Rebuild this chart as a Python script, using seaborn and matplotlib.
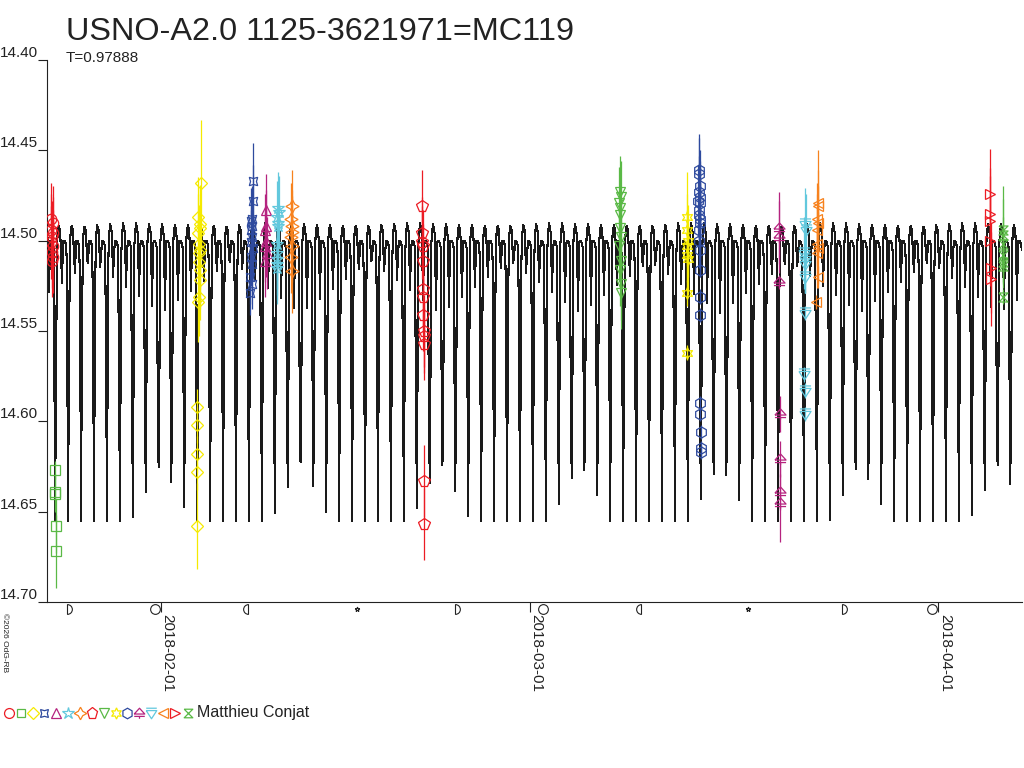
import numpy as np
import pandas as pd
import matplotlib
matplotlib.use("Agg")
import matplotlib.pyplot as plt
import matplotlib.dates as mdates
from matplotlib.path import Path
from matplotlib.lines import Line2D
import seaborn as sns

# ---------------- data ----------------
TITLE = "USNO-A2.0 1125-3621971=MC119"
SUBTITLE = "T=0.97888"
OBSERVER = "Matthieu Conjat"
PERIOD = 0.97888
EPOCH = "2018-02-11 14:48"          # primary minimum of the model curve
X_START = "2018-01-23 09:24"
X_END = "2018-04-07 08:00"

# model light-curve template (phase -> magnitude)
TPL_PHASE = [0.00, 0.022, 0.045, 0.065, 0.082, 0.10, 0.25, 0.42, 0.46, 0.50,
             0.54, 0.58, 0.75, 0.90, 0.918, 0.935, 0.955, 0.978, 1.00]
TPL_MAG = [14.655, 14.655, 14.610, 14.560, 14.520, 14.505, 14.490, 14.497, 14.510, 14.540,
           14.510, 14.500, 14.500, 14.505, 14.520, 14.560, 14.610, 14.655, 14.655]

Y_TICKS = [14.40, 14.45, 14.50, 14.55, 14.60, 14.65, 14.70]
X_TICKS = ["2018-02-01", "2018-03-01", "2018-04-01"]

MOON_DATES = ["2018-01-24 22:20", "2018-01-31 13:27", "2018-02-07 15:54", "2018-02-15 21:05",
              "2018-02-23 08:09", "2018-03-02 00:51", "2018-03-09 11:20", "2018-03-17 13:12",
              "2018-03-24 15:35", "2018-03-31 12:37"]
MOON_PHASES = ["first", "full", "last", "new", "first", "full", "last", "new", "first", "full"]

# observation nights (central time), hour offsets, magnitudes, errors
NIGHTS = ["2018-01-23 18:30", "2018-01-24 00:00", "2018-02-03 22:00", "2018-02-07 22:00",
          "2018-02-08 23:30", "2018-02-09 21:50", "2018-02-10 22:50", "2018-02-20 21:50",
          "2018-03-07 20:20", "2018-03-12 22:50", "2018-03-13 20:40", "2018-03-19 22:20",
          "2018-03-21 21:05", "2018-03-22 19:30", "2018-04-04 22:00", "2018-04-05 21:05"]

HRS_01 = [-2.0, 1.5, -1.0, 2.0, 0.0, -2.5, 1.0, -0.5, 2.5, 0.5]
MAG_01 = [14.488, 14.490, 14.494, 14.496, 14.498, 14.501, 14.503, 14.506, 14.509, 14.511]
ERR_01 = [0.020] * 10

HRS_02 = [0.0, 0.5, -0.5, 1.0, 1.5]
MAG_02 = [14.627, 14.639, 14.640, 14.658, 14.672]
ERR_02 = [0.005, 0.010, 0.010, 0.015, 0.020]

HRS_03 = [3.5, -2.0, 2.0, 1.0, -1.0, 0.5, 1.5, -0.5, 0.0, 2.5, 1.0, 0.5, -2.5, -3.0, -2.8, -3.0, -3.2, -3.2]
MAG_03 = [14.468, 14.487, 14.491, 14.493, 14.496, 14.502, 14.505, 14.507, 14.512, 14.516,
          14.522, 14.531, 14.534, 14.592, 14.602, 14.618, 14.628, 14.658]
ERR_03 = [0.035, 0.022, 0.022, 0.022, 0.022, 0.022, 0.022, 0.022, 0.022, 0.022,
          0.022, 0.022, 0.022, 0.010, 0.010, 0.010, 0.010, 0.024]

HRS_04 = [2.0, 1.5, 0.0, -1.0, 1.0, -2.0, 0.5, -0.5, 2.5, -1.5, 1.0, -2.5, 0.0, -3.0]
MAG_04 = [14.467, 14.478, 14.488, 14.489, 14.492, 14.494, 14.498, 14.501, 14.504, 14.509,
          14.513, 14.520, 14.524, 14.529]
ERR_04 = [0.021, 0.020, 0.018, 0.018, 0.018, 0.018, 0.018, 0.018, 0.016, 0.016,
          0.015, 0.015, 0.014, 0.012]

HRS_05 = [0.0, 1.0, -1.0, 0.5, -0.5, 1.5, -1.5]
MAG_05 = [14.483, 14.492, 14.494, 14.500, 14.503, 14.507, 14.511]
ERR_05 = [0.020] * 7

HRS_06 = [0.0, 1.0, -1.0, 0.5, -0.5, -2.0, -1.5, -2.5, -1.0, -2.0]
MAG_06 = [14.482, 14.484, 14.487, 14.490, 14.492, 14.502, 14.507, 14.510, 14.513, 14.515]
ERR_06 = [0.020] * 10

HRS_07 = [0.5, -0.5, 1.0, 0.0, -1.0, 0.5, -0.5, 0.0]
MAG_07 = [14.481, 14.488, 14.492, 14.495, 14.498, 14.503, 14.509, 14.517]
ERR_07 = [0.020, 0.020, 0.020, 0.020, 0.020, 0.020, 0.020, 0.023]

HRS_08 = [-2.0, -1.5, -1.0, -0.5, 0.0, 0.0, 0.5, 0.5, 1.0, 1.0, 1.5, 1.5, 2.0]
MAG_08 = [14.481, 14.496, 14.501, 14.503, 14.511, 14.527, 14.531, 14.541, 14.550, 14.553,
          14.557, 14.633, 14.657]
ERR_08 = [0.020] * 13

HRS_09 = [0.0, 1.0, -1.0, 0.5, -0.5, 0.0, 1.0, -1.0, 1.5, 0.5, 2.0, 1.0]
MAG_09 = [14.473, 14.476, 14.479, 14.482, 14.486, 14.493, 14.498, 14.503, 14.511, 14.516,
          14.524, 14.529]
ERR_09 = [0.020] * 12

HRS_10 = [0.0, -0.5, 0.5, -1.0, 0.0, 1.0, -0.5, 0.0]
MAG_10 = [14.487, 14.494, 14.500, 14.503, 14.508, 14.510, 14.529, 14.562]
ERR_10 = [0.025, 0.020, 0.020, 0.020, 0.020, 0.020, 0.007, 0.004]

HRS_11 = [-1.0, 0.0, 1.0, -0.5, 0.5, -1.5, 1.5, 0.0, -1.0, 1.0, 0.5,
          -0.5, 0.0, 1.0, 1.0, 1.5, 1.5, 2.0, 2.0, 2.5, 2.5, 2.5]
MAG_11 = [14.461, 14.463, 14.470, 14.473, 14.476, 14.478, 14.479, 14.483, 14.486, 14.488, 14.490,
          14.494, 14.500, 14.505, 14.516, 14.531, 14.541, 14.590, 14.596, 14.606, 14.615, 14.617]
ERR_11 = [0.020, 0.020, 0.020, 0.020, 0.020, 0.020, 0.020, 0.020, 0.020, 0.020, 0.020,
          0.020, 0.015, 0.015, 0.004, 0.004, 0.004, 0.004, 0.004, 0.004, 0.004, 0.004]

HRS_12 = [-1.0, -0.5, 0.0, 1.0, 1.0, 1.5, 1.0]
MAG_12 = [14.493, 14.498, 14.523, 14.596, 14.621, 14.639, 14.645]
ERR_12 = [0.020, 0.020, 0.004, 0.010, 0.010, 0.010, 0.022]

HRS_13 = [0.5, 1.0, -1.0, 0.0, -0.5, 0.0, -0.5, -1.0, -0.5, -0.5]
MAG_13 = [14.491, 14.494, 14.507, 14.510, 14.513, 14.520, 14.540, 14.574, 14.583, 14.596]
ERR_13 = [0.020, 0.020, 0.020, 0.019, 0.016, 0.009, 0.004, 0.004, 0.004, 0.004]

HRS_14 = [1.0, 0.5, 0.0, 1.0, -0.5, 0.0, 0.5, -1.0, 0.5, -2.0]
MAG_14 = [14.479, 14.481, 14.488, 14.490, 14.494, 14.502, 14.504, 14.507, 14.520, 14.534]
ERR_14 = [0.029, 0.020, 0.020, 0.020, 0.020, 0.020, 0.020, 0.019, 0.006, 0.004]

HRS_15 = [0.0, -0.5, 0.5, -1.0, 1.0, 1.5]
MAG_15 = [14.474, 14.485, 14.489, 14.500, 14.515, 14.521]
ERR_15 = [0.025, 0.025, 0.025, 0.025, 0.025, 0.026]

HRS_16 = [0.0, 1.0, -0.5, 0.5, 0.0, 1.0, 0.0]
MAG_16 = [14.494, 14.497, 14.502, 14.508, 14.512, 14.514, 14.531]
ERR_16 = [0.024, 0.020, 0.015, 0.015, 0.012, 0.012, 0.004]

# ---------------- styles ----------------
RED, GREEN, YELLOW, BLUE = "#ec1c24", "#5ab946", "#f5ea00", "#2e4a9e"
MAGENTA, CYAN, ORANGE = "#b5237f", "#62c8dd", "#f7821e"

M, L = Path.MOVETO, Path.LINETO
TRI_BAR_UP = Path([(-1, -0.1), (0, 1), (1, -0.1), (-1, -0.1), (-1, -0.55), (1, -0.55), (0, -0.55), (0, -1)],
                  [M, L, L, L, M, L, M, L])
TRI_BAR_DOWN = Path([(-1, 1), (1, 1), (-1, 0.55), (1, 0.55), (0, -1), (-1, 0.55)],
                    [M, L, M, L, L, L])
HOURGLASS = Path([(-1, 1), (1, 1), (-1, -1), (1, -1), (-1, 1)], [M, L, L, L, L])

SERIES_STYLE = [
    (RED, "o", 7.5), (GREEN, "s", 6.5), (YELLOW, "D", 6.5), (BLUE, (4, 1, 45), 8.5),
    (MAGENTA, "^", 7.5), (CYAN, "*", 9.5), (ORANGE, (4, 1, 0), 9.5), (RED, "p", 8.5),
    (GREEN, "v", 7.5), (YELLOW, (6, 1, 0), 8.5), (BLUE, "h", 8), (MAGENTA, TRI_BAR_UP, 8),
    (CYAN, TRI_BAR_DOWN, 8), (ORANGE, "<", 7.5), (RED, ">", 7.5), (GREEN, HOURGLASS, 6.5),
]

HRS = [HRS_01, HRS_02, HRS_03, HRS_04, HRS_05, HRS_06, HRS_07, HRS_08,
       HRS_09, HRS_10, HRS_11, HRS_12, HRS_13, HRS_14, HRS_15, HRS_16]
MAGS = [MAG_01, MAG_02, MAG_03, MAG_04, MAG_05, MAG_06, MAG_07, MAG_08,
        MAG_09, MAG_10, MAG_11, MAG_12, MAG_13, MAG_14, MAG_15, MAG_16]
ERRS = [ERR_01, ERR_02, ERR_03, ERR_04, ERR_05, ERR_06, ERR_07, ERR_08,
        ERR_09, ERR_10, ERR_11, ERR_12, ERR_13, ERR_14, ERR_15, ERR_16]

# ---------------- figure ----------------
sns.set_theme(style="white")
plt.rcParams["font.family"] = ["Liberation Sans", "DejaVu Sans"]
plt.rcParams["axes.linewidth"] = 0.8

W, H = 1024, 768
fig = plt.figure(figsize=(W / 100, H / 100), dpi=100)
ax = fig.add_axes([47 / W, 1 - 602 / H, (1022 - 47) / W, (602 - 60) / H])

def dnum(s):
    return mdates.date2num(pd.Timestamp(s))

x0, x1 = dnum(X_START), dnum(X_END)
epoch = dnum(EPOCH)

# model light curve sampled at roughly one screen pixel
px_per_day = (1022 - 47) / (x1 - x0)
t_model = np.arange(x0, x1, 1.0 / px_per_day)
phase = ((t_model - epoch) / PERIOD) % 1.0
mag_model = np.interp(phase, TPL_PHASE, TPL_MAG)
curve = pd.DataFrame({"t": t_model, "mag": mag_model})
sns.lineplot(data=curve, x="t", y="mag", ax=ax, color="#1a1a1a", lw=0.8,
             estimator=None, sort=False, zorder=2, antialiased=False)

# observations
for night, hrs, mags, errs, (col, mk, ms) in zip(NIGHTS, HRS, MAGS, ERRS, SERIES_STYLE):
    t = dnum(night) + np.array(hrs) / 24.0
    ax.errorbar(t, mags, yerr=errs, linestyle="none", marker=mk, ms=ms, mfc="none",
                mec=col, mew=0.9, ecolor=col, elinewidth=0.9, capsize=0, zorder=3)

# axes styling
ax.set_xlim(x0, x1)
ax.set_ylim(14.70, 14.40)
ax.set_xlabel("")
ax.set_ylabel("")
for side in ("top", "right"):
    ax.spines[side].set_visible(False)
for side in ("left", "bottom"):
    ax.spines[side].set_color("#222222")
    ax.spines[side].set_linewidth(0.8)

ax.set_yticks(Y_TICKS)
ax.set_yticklabels([f"{v:.2f}" for v in Y_TICKS])
ax.tick_params(axis="y", direction="out", length=6.5, width=0.8, pad=0, labelsize=11,
               colors="#222222", left=True)
for lab in ax.get_yticklabels():
    lab.set_va("bottom")

ax.set_xticks([dnum(s) for s in X_TICKS])
ax.set_xticklabels(X_TICKS, rotation=-90, ha="left", va="top")
ax.tick_params(axis="x", direction="out", length=7, width=0.8, pad=2, labelsize=11,
               colors="#222222", bottom=True)

# moon phase symbols just below the axis
moon_marker = {"first": Path.wedge(-90, 90), "last": Path.wedge(90, 270),
               "full": "o", "new": "*"}
moon_size = {"first": 7, "last": 7, "full": 7, "new": 3.5}
trans = ax.get_xaxis_transform()
for d, ph in zip(MOON_DATES, MOON_PHASES):
    ax.plot([dnum(d)], [-0.012], transform=trans, marker=moon_marker[ph], ms=moon_size[ph],
            mfc="none", mec="#222222", mew=0.8, linestyle="none", clip_on=False)

# texts
fig.text(66 / W, 1 - 17 / H, TITLE, fontsize=23.3, va="top", ha="left", color="#222222")
fig.text(66 / W, 1 - 51 / H, SUBTITLE, fontsize=11, va="top", ha="left", color="#222222")
fig.text(1 / W, 1 - 613 / H, "\u00a92026 OdG-RB", fontsize=6, rotation=-90,
         va="top", ha="left", color="#222222")

# legend row
leg_x = [9, 21, 33, 44, 56, 68, 80, 92, 104, 116, 127, 139, 151, 163, 175, 188]
for lx, (col, mk, ms) in zip(leg_x, SERIES_STYLE):
    fig.add_artist(Line2D([lx / W], [1 - 713 / H], transform=fig.transFigure, marker=mk,
                          ms=ms * 0.95, mfc="none", mec=col, mew=0.9, linestyle="none"))
fig.text(197 / W, 1 - 713 / H, OBSERVER, fontsize=11.5, va="center", ha="left", color="#222222")

fig.savefig("out.png", dpi=100, facecolor="white")
